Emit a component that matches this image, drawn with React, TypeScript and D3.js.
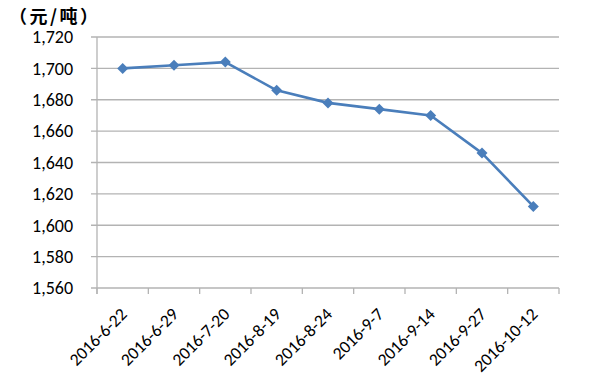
import React from "react";
import * as d3 from "d3";

const categories = ["2016-6-22", "2016-6-29", "2016-7-20", "2016-8-19", "2016-8-24", "2016-9-7", "2016-9-14", "2016-9-27", "2016-10-12"];
const values = [1700, 1702, 1704, 1686, 1678, 1674, 1670, 1646, 1612];
const yTicks = [1560, 1580, 1600, 1620, 1640, 1660, 1680, 1700, 1720];
const unitLabel = "（元/吨）";

const W = 607, H = 379;
const left = 97, right = 559, top = 37, bottom = 288;

export default function App() {
  const x = d3.scaleBand<string>().domain(categories).range([left, right]);
  const y = d3.scaleLinear().domain([1560, 1720]).range([bottom, top]);
  const fmt = d3.format(",");
  const line = d3.line<number>()
    .x((_, i) => (x(categories[i]) as number) + x.bandwidth() / 2)
    .y((d) => y(d));
  const r = 5.5;
  const diamond = `M0,${-r}L${r},0L0,${r}L${-r},0Z`;
  const edges = categories.map((c) => x(c) as number).concat([right]);
  const font = "Carlito, Calibri, 'Liberation Sans', sans-serif";
  return (
    <svg width={W} height={H} style={{ position: "absolute", left: 0, top: 0, background: "#fff" }}>
      <rect width={W} height={H} fill="#fff" />
      {yTicks.map((t) => (
        <g key={t}>
          <line x1={left - 6} x2={right} y1={y(t)} y2={y(t)} stroke="#b3b3b3" strokeWidth={1.3} />
          <text x={73} y={y(t)} dy="0.35em" textAnchor="end" fontFamily={font} fontSize={18} fill="#000">
            {fmt(t)}
          </text>
        </g>
      ))}
      <line x1={left} x2={left} y1={top} y2={bottom + 6} stroke="#b3b3b3" strokeWidth={1.3} />
      {edges.map((e, i) => (
        <line key={i} x1={e} x2={e} y1={bottom} y2={bottom + 6} stroke="#b3b3b3" strokeWidth={1.3} />
      ))}
      {categories.map((c) => {
        const cx = (x(c) as number) + x.bandwidth() / 2 + 1;
        const cy = bottom + 23;
        return (
          <text key={c} transform={`translate(${cx},${cy}) rotate(-45)`} textAnchor="end" dy="0.35em"
            fontFamily={font} fontSize={17.5} fill="#000">
            {c}
          </text>
        );
      })}
      <path d={line(values) as string} fill="none" stroke="#4a7ebb" strokeWidth={2.6} strokeLinejoin="round" />
      {values.map((v, i) => (
        <path key={i} d={diamond}
          transform={`translate(${(x(categories[i]) as number) + x.bandwidth() / 2},${y(v)})`}
          fill="#4a7ebb" />
      ))}
      <text x={9} y={23} fontFamily="'Noto Sans CJK SC', sans-serif" fontSize={18} fontWeight="bold"
        letterSpacing={2.5} fill="#000">
        {unitLabel}
      </text>
    </svg>
  );
}
